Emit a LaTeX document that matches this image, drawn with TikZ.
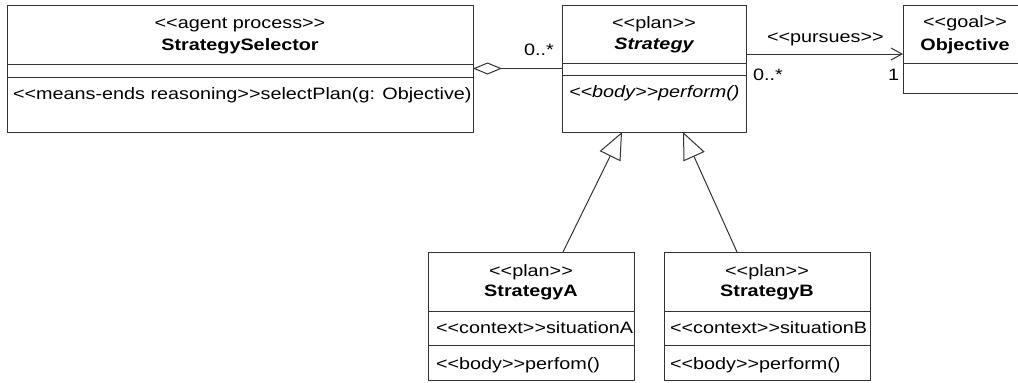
\documentclass[tikz,border=0pt]{standalone}
\usepackage{fontspec}
\newfontfamily\umlfont{Liberation Sans}[FakeStretch=1.2]
\usetikzlibrary{arrows.meta}
\definecolor{linec}{HTML}{333333}
\tikzset{
  box/.style={draw=linec, line width=1pt, fill=white, inner sep=0pt, outer sep=0pt, anchor=north west},
  txt/.style={inner sep=0pt, outer sep=0pt, text=black, font=\umlfont\fontsize{16.5}{19}\selectfont},
  btxt/.style={txt, font=\umlfont\fontsize{16.5}{19}\selectfont\bfseries},
  itxt/.style={txt, font=\umlfont\fontsize{16.5}{19}\selectfont\itshape},
  bitxt/.style={txt, font=\umlfont\fontsize{16.5}{19}\selectfont\bfseries\itshape},
  divider/.style={draw=linec, line width=1pt},
  conn/.style={draw=linec, line width=1pt},
}
\begin{document}
\begin{tikzpicture}[x=1pt,y=-1pt]
\useasboundingbox (0,0) rectangle (1018,383);
\clip (0,0) rectangle (1018,383);

% StrategySelector
\node[box, minimum width=466pt, minimum height=127pt] (SS) at (7,5) {};
\draw[divider] (SS.west |- 0,64) -- (SS.east |- 0,64);
\draw[divider] (SS.west |- 0,77) -- (SS.east |- 0,77);
\node[txt, anchor=base] (SSst) at (240,28) {<<agent process>>};
\node[btxt, anchor=base] (SSnm) at (240,50.5) {StrategySelector};
\node[txt, anchor=base west] (SSop) at (13,99) {<<means-ends reasoning>>selectPlan(g: Objective)};

% Strategy
\node[box, minimum width=184pt, minimum height=127pt] (St) at (562,5) {};
\draw[divider] (St.west |- 0,63) -- (St.east |- 0,63);
\draw[divider] (St.west |- 0,75) -- (St.east |- 0,75);
\node[txt, anchor=base] (Stst) at (654,28) {<<plan>>};
\node[bitxt, anchor=base] (Stnm) at (654,49.5) {Strategy};
\node[itxt, anchor=base west] (Stop) at (569,97) {<<body>>perform()};

% Objective
\node[box, minimum width=124pt, minimum height=88pt] (Ob) at (903,5) {};
\draw[divider] (Ob.west |- 0,63) -- (Ob.east |- 0,63);
\node[txt, anchor=base] (Obst) at (965,27.5) {<<goal>>};
\node[btxt, anchor=base] (Obnm) at (965,50) {Objective};

% StrategyA
\node[box, minimum width=206pt, minimum height=128pt] (A) at (428,252) {};
\draw[divider] (A.west |- 0,311) -- (A.east |- 0,311);
\draw[divider] (A.west |- 0,345.5) -- (A.east |- 0,345.5);
\node[txt, anchor=base] (Ast) at (531,276) {<<plan>>};
\node[btxt, anchor=base] (Anm) at (531,296.5) {StrategyA};
\node[txt, anchor=base west] (Aat) at (436,333) {<<context>>situationA};
\node[txt, anchor=base west] (Aop) at (436,369.5) {<<body>>perfom()};

% StrategyB
\node[box, minimum width=206pt, minimum height=128pt] (B) at (664,252) {};
\draw[divider] (B.west |- 0,311) -- (B.east |- 0,311);
\draw[divider] (B.west |- 0,345.5) -- (B.east |- 0,345.5);
\node[txt, anchor=base] (Bst) at (767,276) {<<plan>>};
\node[btxt, anchor=base] (Bnm) at (767,296.5) {StrategyB};
\node[txt, anchor=base west] (Bat) at (670,333) {<<context>>situationB};
\node[txt, anchor=base west] (Bop) at (670,369.5) {<<body>>perform()};

% aggregation
\draw[conn, -{Diamond[open, fill=white, length=29pt, width=12pt]}] (St.west) -- (SS.east);
\node[txt, anchor=base west] (m1) at (524,55) {0..*};

% pursues
\coordinate (pp) at (0,54);
\draw[conn, -{Straight Barb[length=11pt, width=12pt]}] (St.east |- pp) -- (Ob.west |- pp);
\node[txt, anchor=base west] (lp) at (767,42) {<<pursues>>};
\node[txt, anchor=base west] (m2) at (753,80.5) {0..*};
\node[txt, anchor=base west] (m3) at (888,80.5) {1};

% generalizations
\draw[conn, -{Triangle[open, fill=white, length=27pt, width=23pt]}] ([xshift=32pt]A.north) -- ([xshift=-32pt]St.south);
\draw[conn, -{Triangle[open, fill=white, length=27pt, width=23pt]}] ([xshift=-30pt]B.north) -- ([xshift=29pt]St.south);
\end{tikzpicture}
\end{document}
